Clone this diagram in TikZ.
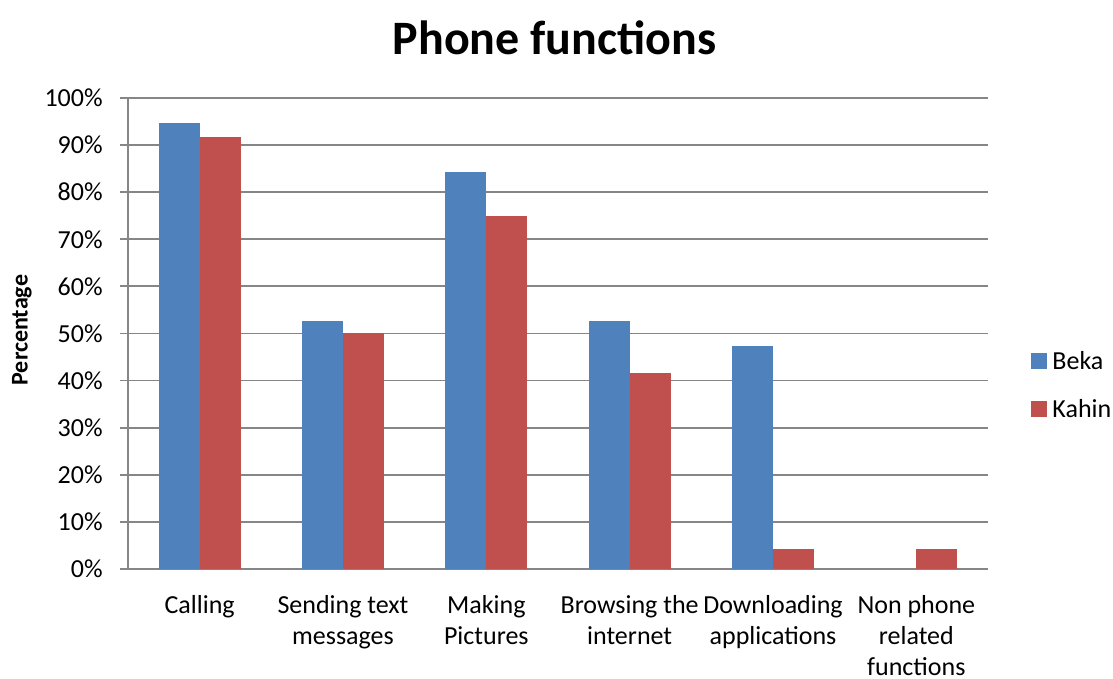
\documentclass[tikz,border=0pt]{standalone}
\usepackage{fontspec}
\setmainfont{Carlito}
\usepackage{tikz}

\definecolor{bekablue}{HTML}{4F81BD}
\definecolor{kahinred}{HTML}{C0504D}
\definecolor{gridgray}{HTML}{868686}

\begin{document}
\begin{tikzpicture}[x=71.67pt,y=2.355pt,
    every node/.style={font=\fontsize{13}{15.5}\selectfont,inner sep=0pt},
    gridline/.style={draw=gridgray,line width=0.9pt},
    beka/.style={fill=bekablue},
    kahin/.style={fill=kahinred}]
  \useasboundingbox (-0.893,-23.35) rectangle (6.872,120.8);

  % Grid and axis
  \draw[gridline] (-0.056,0) -- (6,0) (-0.056,10) -- (6,10)
    (-0.056,20) -- (6,20) (-0.056,30) -- (6,30)
    (-0.056,40) -- (6,40) (-0.056,50) -- (6,50)
    (-0.056,60) -- (6,60) (-0.056,70) -- (6,70)
    (-0.056,80) -- (6,80) (-0.056,90) -- (6,90)
    (-0.056,100) -- (6,100);
  \draw[gridline] (0,0) -- (0,100);

  % Tick labels
  \node[anchor=east] (t0) at (-0.174,0) {0\%};
  \node[anchor=east] (t10) at (-0.174,10) {10\%};
  \node[anchor=east] (t20) at (-0.174,20) {20\%};
  \node[anchor=east] (t30) at (-0.174,30) {30\%};
  \node[anchor=east] (t40) at (-0.174,40) {40\%};
  \node[anchor=east] (t50) at (-0.174,50) {50\%};
  \node[anchor=east] (t60) at (-0.174,60) {60\%};
  \node[anchor=east] (t70) at (-0.174,70) {70\%};
  \node[anchor=east] (t80) at (-0.174,80) {80\%};
  \node[anchor=east] (t90) at (-0.174,90) {90\%};
  \node[anchor=east] (t100) at (-0.174,100) {100\%};

  % Bars (Beka)
  \fill[beka] (0.214,0) rectangle (0.5,94.7);
  \fill[beka] (1.214,0) rectangle (1.5,52.6);
  \fill[beka] (2.214,0) rectangle (2.5,84.2);
  \fill[beka] (3.214,0) rectangle (3.5,52.6);
  \fill[beka] (4.214,0) rectangle (4.5,47.4);

  % Bars (Kahin)
  \fill[kahin] (0.5,0) rectangle (0.786,91.7);
  \fill[kahin] (1.5,0) rectangle (1.786,50.0);
  \fill[kahin] (2.5,0) rectangle (2.786,75.0);
  \fill[kahin] (3.5,0) rectangle (3.786,41.7);
  \fill[kahin] (4.5,0) rectangle (4.786,4.2);
  \fill[kahin] (5.5,0) rectangle (5.786,4.2);

  % Category labels
  \node[anchor=north,align=center] (c1) at (0.5,-5.6) {Calling};
  \node[anchor=north,align=center] (c2) at (1.5,-5.6) {Sending text\\messages};
  \node[anchor=north,align=center] (c3) at (2.5,-5.6) {Making\\Pictures};
  \node[anchor=north,align=center] (c4) at (3.5,-5.6) {Browsing the\\internet};
  \node[anchor=north,align=center] (c5) at (4.5,-5.6) {Downloading\\applications};
  \node[anchor=north,align=center] (c6) at (5.5,-5.6) {Non phone\\related\\functions};

  % Title, axis title and legend
  \node[font=\fontsize{24}{28}\selectfont\bfseries] (title) at (2.976,112.7) {Phone functions};
  \node[font=\fontsize{12}{14}\selectfont\bfseries,rotate=90] (ylab) at (-0.740,50.7) {Percentage};
  \node[beka,minimum size=8pt] (kb) at (6.356,44.2) {};
  \node[kahin,minimum size=8pt] (kk) at (6.356,34.0) {};
  \node[anchor=west] (lb) at (6.447,44.2) {Beka};
  \node[anchor=west] (lk) at (6.447,34.0) {Kahin};
\end{tikzpicture}
\end{document}
